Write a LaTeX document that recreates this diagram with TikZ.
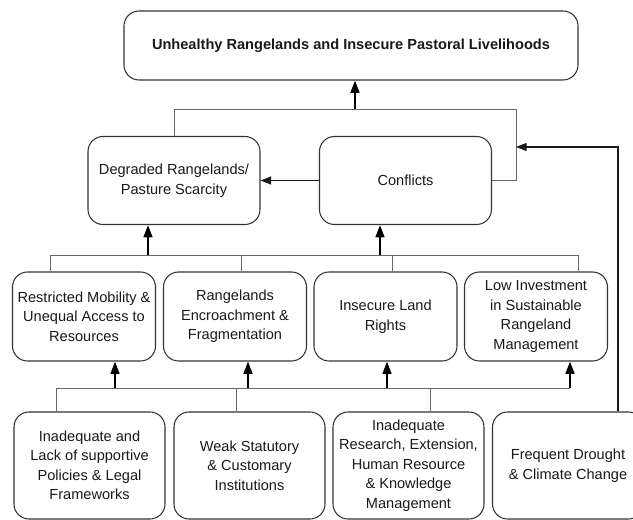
\documentclass[tikz,border=0pt]{standalone}
\usepackage{fontspec}
\setmainfont{Liberation Sans}
\usetikzlibrary{arrows.meta}

\begin{document}
\begin{tikzpicture}[x=1cm,y=1cm,box/.style={draw=black!80,line width=0.6pt,rounded corners=0.3cm,fill=white,align=center,inner sep=0pt,text=black!90,font=\fontsize{8.3pt}{11.1pt}\selectfont},goal/.style={box,minimum width=9.08cm,minimum height=1.38cm,font=\fontsize{8.3pt}{11.1pt}\selectfont\bfseries},mid/.style={box,minimum width=3.44cm,minimum height=1.76cm},cause/.style={box,minimum width=2.86cm,minimum height=1.78cm},root/.style={box,minimum width=3.02cm,minimum height=2.14cm},bus/.style={draw=black!60,line width=0.5pt},link/.style={draw=black!90,line width=0.8pt,-{Triangle[length=6pt,width=4.5pt]}},edge/.style={draw=black,line width=1.2pt,-{Triangle[length=7pt,width=5pt]}}]
\useasboundingbox (0,0) rectangle (12.66,-10.40);
\node[goal] (n0) at (7.02,-0.91) {Unhealthy Rangelands and Insecure Pastoral Livelihoods};
\node[mid] (n1) at (3.48,-3.61) {Degraded Rangelands/\\Pasture Scarcity};
\node[mid] (n2) at (8.11,-3.61) {Conflicts};
\node[cause] (n3) at (1.68,-6.33) {Restricted Mobility \&\\Unequal Access to\\Resources};
\node[cause] (n4) at (4.70,-6.33) {Rangelands\\Encroachment \&\\Fragmentation};
\node[cause] (n5) at (7.71,-6.33) {Insecure Land\\Rights};
\node[cause] (n6) at (10.72,-6.33) {Low Investment\\in Sustainable\\Rangeland\\Management};
\node[root] (n7) at (1.79,-9.31) {Inadequate and\\Lack of supportive\\Policies \& Legal\\Frameworks};
\node[root] (n8) at (4.99,-9.31) {Weak Statutory\\\& Customary\\Institutions};
\node[root] (n9) at (8.17,-9.31) {Inadequate\\Research, Extension,\\Human Resource\\\& Knowledge\\Management};
\node[root] (n10) at (11.36,-9.31) {Frequent Drought\\\& Climate Change};
% bus joints
\coordinate (t0) at (7.10,-2.18);
\coordinate (t1) at (10.32,-2.18);
\coordinate (m0) at (1.00,-5.10);
\coordinate (m1) at (11.56,-5.10);
\coordinate (l0) at (1.12,-7.76);
\coordinate (l1) at (11.40,-7.76);
\coordinate (fb) at (12.36,-2.94);
% top level
\draw[bus] (n1.north) |- (t1) |- (n2.east);
\draw[edge] (t0) -- (t0 |- n0.south);
\draw[link] (n2.west) -- (n1.east);
\draw[link] (n10.north -| fb) |- (fb -| t1);
% middle level
\draw[bus] (n3.north -| m0) -- (m0) -- (m1) -- (n6.north -| m1);
\draw[bus] (n4.north -| 4.82,0) -- (4.82,-5.10);
\draw[bus] (n5.north -| 7.84,0) -- (7.84,-5.10);
\draw[edge] (2.96,-5.10) -- (n1.south -| 2.96,0);
\draw[edge] (7.60,-5.10) -- (n2.south -| 7.60,0);
% lower level
\draw[bus] (n7.north -| l0) |- (l1);
\draw[bus] (n8.north -| 4.72,0) -- (4.72,-7.76);
\draw[bus] (n9.north -| 8.60,0) -- (8.60,-7.76);
\draw[edge] (2.30,-7.76) -- (n3.south -| 2.30,0);
\draw[edge] (4.96,-7.76) -- (n4.south -| 4.96,0);
\draw[edge] (7.74,-7.76) -- (n5.south -| 7.74,0);
\draw[edge] (l1) -- (n6.south -| l1);
\end{tikzpicture}
\end{document}
